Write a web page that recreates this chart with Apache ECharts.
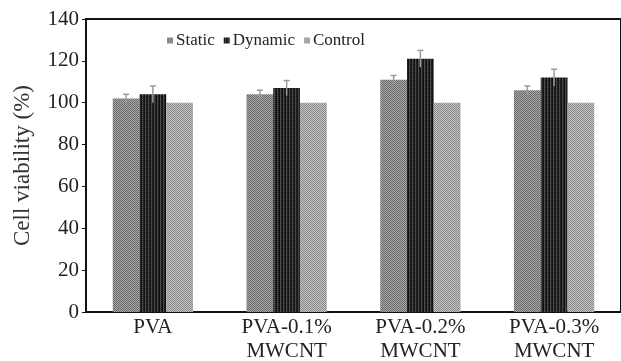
<!DOCTYPE html>
<html>
<head>
<meta charset="utf-8">
<script src="https://cdn.jsdelivr.net/npm/echarts@6/dist/echarts.min.js"></script>
<style>
  html, body { margin: 0; padding: 0; background: #fff; }
  #chart { width: 621px; height: 361px; }
</style>
</head>
<body>
<div id="chart"></div>
<script>
var categories = ['PVA', 'PVA-0.1%\nMWCNT', 'PVA-0.2%\nMWCNT', 'PVA-0.3%\nMWCNT'];
var staticVals = [102, 104, 111, 106];
var dynamicVals = [104, 107, 121, 112];
var controlVals = [100, 100, 100, 100];
var staticErr = [2, 2, 2, 2];
var dynamicErr = [4, 3.6, 4, 4];

// small hatch fills like the printed figure
function makePattern(cells, w, h) {
    var c = document.createElement('canvas');
    c.width = w; c.height = h;
    var ctx = c.getContext('2d');
    for (var y = 0; y < h; y++) {
        for (var x = 0; x < w; x++) {
            ctx.fillStyle = cells[y][x];
            ctx.fillRect(x, y, 1, 1);
        }
    }
    return { image: c, repeat: 'repeat' };
}
var staticFill = makePattern([['#6a6a6a', '#a8a8a8'], ['#a8a8a8', '#6a6a6a']], 2, 2);
var dynamicFill = makePattern([['#111111', '#3c3c3c', '#222222'], ['#111111', '#555555', '#222222']], 3, 2);
var controlFill = makePattern([['#8a8a8a', '#c4c4c4'], ['#c4c4c4', '#8a8a8a']], 2, 2);

var barCatGap = 0.4;

function errorSeries(name, errs, vals, shift) {
    return {
        name: name + ' err',
        type: 'custom',
        z: 5,
        silent: true,
        data: vals.map(function (v, i) { return [i, v, errs[i]]; }),
        renderItem: function (params, api) {
            var i = api.value(0), v = api.value(1), e = api.value(2);
            var band = api.size([1, 0])[0];
            var bw = band * (1 - barCatGap) / 3;
            var top = api.coord([i, v + e]);
            var bot = api.coord([i, v - e]);
            var x = top[0] + shift * bw;
            var style = { stroke: '#9a9a9a', lineWidth: 1.5 };
            return {
                type: 'group',
                children: [
                    { type: 'line', shape: { x1: x, y1: top[1], x2: x, y2: bot[1] }, style: style },
                    { type: 'line', shape: { x1: x - 3, y1: top[1], x2: x + 3, y2: top[1] }, style: style }
                ]
            };
        }
    };
}

var chart = echarts.init(document.getElementById('chart'));
var option = {
    animation: false,
    textStyle: { fontFamily: 'Liberation Serif' },
    grid: {
        left: 86, right: 0, top: 19, bottom: 49,
        outerBoundsMode: 'none',
        show: true, borderColor: '#111', borderWidth: 2
    },
    legend: {
        data: ['Static', 'Dynamic', 'Control'],
        left: 162, top: 27,
        icon: 'rect',
        itemWidth: 6, itemHeight: 6, itemGap: 9,
        textStyle: { fontFamily: 'Liberation Serif', fontSize: 17, color: '#222', padding: [0, 0, 0, -2] }
    },
    xAxis: {
        type: 'category',
        data: categories,
        axisLine: { lineStyle: { color: '#111', width: 2 } },
        axisTick: { show: false },
        axisLabel: { fontFamily: 'Liberation Serif', fontSize: 21, color: '#222', margin: 3, lineHeight: 24 }
    },
    yAxis: {
        type: 'value',
        min: 0, max: 140, interval: 20,
        name: 'Cell viability (%)',
        nameLocation: 'middle',
        nameGap: 52,
        nameTextStyle: { fontFamily: 'Liberation Serif', fontSize: 23, color: '#333' },
        splitLine: { show: false },
        axisLine: { show: true, lineStyle: { color: '#111', width: 2 } },
        axisTick: { show: true, length: 4, lineStyle: { color: '#111' } },
        axisLabel: { fontFamily: 'Liberation Serif', fontSize: 21, color: '#222', margin: 7 }
    },
    series: [
        { name: 'Static', type: 'bar', data: staticVals, barGap: '0%', barCategoryGap: '40%', itemStyle: { color: staticFill } },
        { name: 'Dynamic', type: 'bar', data: dynamicVals, barGap: '0%', barCategoryGap: '40%', itemStyle: { color: dynamicFill } },
        { name: 'Control', type: 'bar', data: controlVals, barGap: '0%', barCategoryGap: '40%', itemStyle: { color: controlFill } },
        errorSeries('Static', staticErr, staticVals, -1),
        errorSeries('Dynamic', dynamicErr, dynamicVals, 0)
    ]
};
chart.setOption(option);
</script>
</body>
</html>
